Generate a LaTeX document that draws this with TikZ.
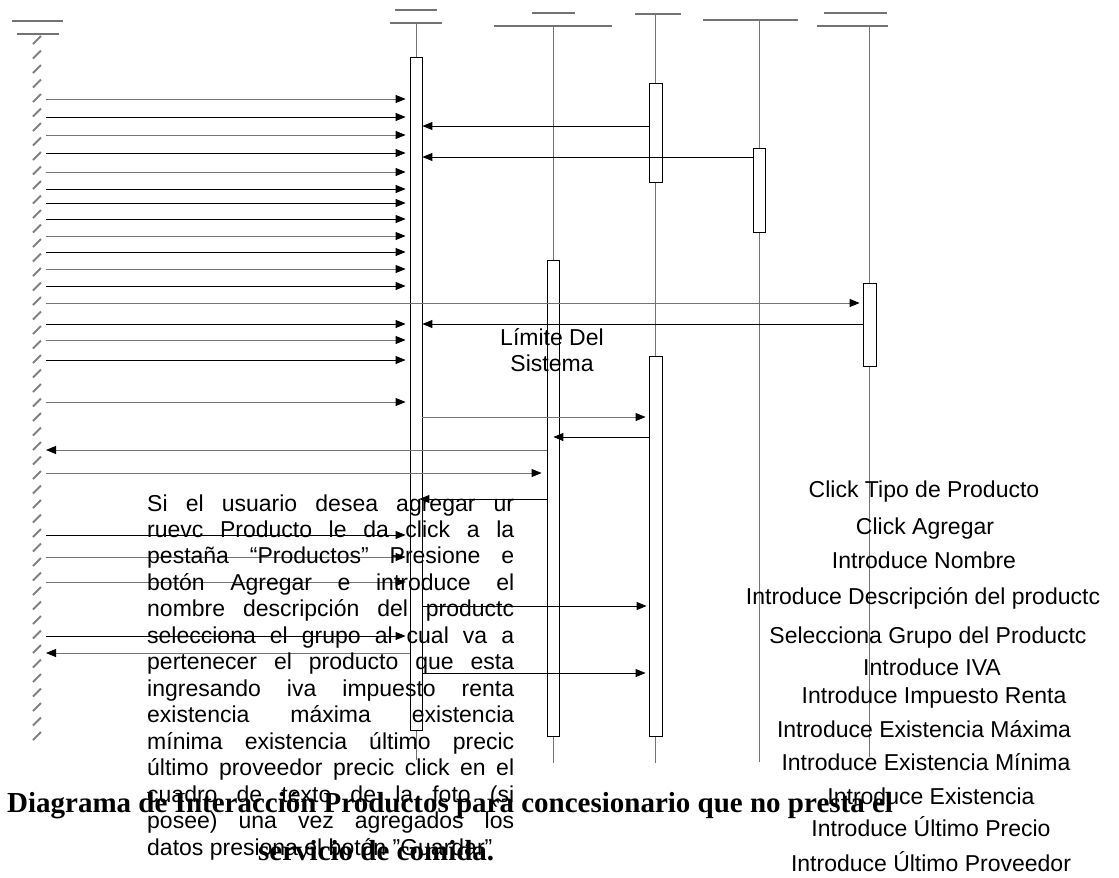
\documentclass[tikz,border=0pt]{standalone}
\usepackage{fontspec}
\setmainfont{Liberation Sans}
\newfontfamily\legende{Liberation Serif}
\usetikzlibrary{arrows.meta}

\begin{document}
\begin{tikzpicture}[x=1pt, y=-1pt,
    vida/.style={black!55, line width=1pt},
    cabeza/.style={black!55, line width=1.3pt},
    hachure/.style={black!50, line width=2pt},
    activa/.style={draw, fill=white, line width=0.8pt, minimum width=12pt, inner sep=0pt},
    msg/.style={-{Triangle[length=10pt,width=8pt,color=black]}, line width=0.9pt},
    msgg/.style={msg, black!55},
    texto/.style={font=\fontsize{23}{26.5}\selectfont, inner sep=0pt},
    leyenda/.style={font=\legende\bfseries\fontsize{29}{34}\selectfont, inner sep=0pt}]
  \useasboundingbox (0,0) rectangle (1119,878);
  % Cabezas
  \draw[cabeza] (12,21) -- (63,21);
  \draw[cabeza] (17,34) -- (59,34);
  \draw[cabeza] (395,10) -- (437,10);
  \draw[cabeza] (390,23) -- (442,23);
  \draw[cabeza] (532,13) -- (575,13);
  \draw[cabeza] (494,26) -- (612,26);
  \draw[cabeza] (635,14) -- (681,14);
  \draw[cabeza] (703,20) -- (798,20);
  \draw[cabeza] (824,13) -- (887,13);
  \draw[cabeza] (817,26) -- (888,26);
  % Lineas de vida
  \foreach \y in {40,54.5,...,748}
    \draw[hachure] (33,\y+4) -- (41,\y-4);
  \draw[vida] (416,23) -- (416,760);
  \draw[vida] (553,26) -- (553,763);
  \draw[vida] (655.5,14) -- (655.5,763);
  \draw[vida] (759,20) -- (759,762);
  \draw[vida] (869.5,26) -- (869.5,757);
  % Activaciones
  \coordinate (usuario) at (46,0);
  \node[activa, minimum height=673pt] (interfaz) at (416,393.5) {};
  \node[activa, minimum height=476pt] (sistema) at (553,498) {};
  \node[activa, minimum height=99pt, minimum width=13pt] (prod1) at (655.5,132.5) {};
  \node[activa, minimum height=380pt, minimum width=13pt] (prod2) at (655.5,546) {};
  \node[activa, minimum height=84pt] (grupo) at (759,190) {};
  \node[activa, minimum height=83pt, minimum width=13pt] (tipo) at (869.5,324.5) {};
  % Mensajes
  \foreach \y in {117,153,189,203,219,252,286,324,360,535,636}
    \draw[msg, shorten >=4pt] (usuario |- 0,\y) -- (interfaz.west |- 0,\y);
  \foreach \y in {99,135,172,236,269,340,402,557,582}
    \draw[msgg, shorten >=4pt] (usuario |- 0,\y) -- (interfaz.west |- 0,\y);
  \draw[msg] (prod1.west |- 0,126) -- (interfaz.east |- 0,126);
  \draw[msg] (grupo.west |- 0,157) -- (interfaz.east |- 0,157);
  \draw[msgg, shorten >=3pt] (usuario |- 0,303) -- (tipo.west |- 0,303);
  \draw[msg] (tipo.west |- 0,324) -- (interfaz.east |- 0,324);
  \draw[msgg, shorten >=3pt] (interfaz.east |- 0,417) -- (prod2.west |- 0,417);
  \draw[msg, shorten >=-6pt] (prod2.west |- 0,437) -- (sistema.east |- 0,437);
  \draw[msgg] (sistema.west |- 0,450) -- (usuario |- 0,450);
  \draw[msgg, shorten >=5pt] (usuario |- 0,473) -- (sistema.west |- 0,473);
  \draw[msg, shorten >=-3pt] (sistema.west |- 0,499) -- (interfaz.east |- 0,499);
  \draw[msg, shorten >=2pt] (interfaz.east |- 0,606) -- (prod2.west |- 0,606);
  \draw[msgg] (interfaz.west |- 0,653) -- (usuario |- 0,653);
  \draw[msg, shorten >=3pt] (interfaz.east |- 0,673) -- (prod2.west |- 0,673);
  % Textos
  \node[texto, anchor=base] (lim1) at (552,345) {Límite Del};
  \node[texto, anchor=base] (lim2) at (552,371) {Sistema};
  \foreach \linea [count=\i] in {Si el usuario desea agregar ur,
      ruevc Producto le da click a la,
      pestaña “Productos” Presione e,
      botón Agregar e introduce el,
      nombre descripción del productc,
      selecciona el grupo al cual va a,
      pertenecer el producto que esta,
      ingresando iva impuesto renta,
      existencia máxima existencia,
      mínima existencia último precic,
      último proveedor precic click en el,
      cuadro de texto de la foto (si,
      posee) una vez agregados los}
    \node[texto, anchor=base west] (par\i) at (147,{511+26.46*(\i-1)})
      {\makebox[367pt][s]{\linea}};
  \node[texto, anchor=base west] (par14) at (147,855)
    {datos presiona el botón \char34 Guardar\char34};
  \foreach \x/\y/\t [count=\i] in {924/497/Click Tipo de Producto,
      925/534/Click Agregar,
      924/568/Introduce Nombre,
      923/604/Introduce Descripción del productc,
      928/643/Selecciona Grupo del Productc,
      932/675/Introduce IVA,
      934/703/Introduce Impuesto Renta,
      924/737/Introduce Existencia Máxima,
      926/770/Introduce Existencia Mínima,
      931/804/Introduce Existencia,
      931/836/Introduce Último Precio,
      931/871/Introduce Último Proveedor}
    \node[texto, anchor=base] (paso\i) at (\x,\y) {\t};
  % Leyenda
  \node[leyenda, anchor=base west] (ley1) at (7,812)
    {Diagrama de Interacción Productos para concesionario que no presta el};
  \node[leyenda, anchor=base west] (ley2) at (258,860) {servicio de comida.};
\end{tikzpicture}
\end{document}
